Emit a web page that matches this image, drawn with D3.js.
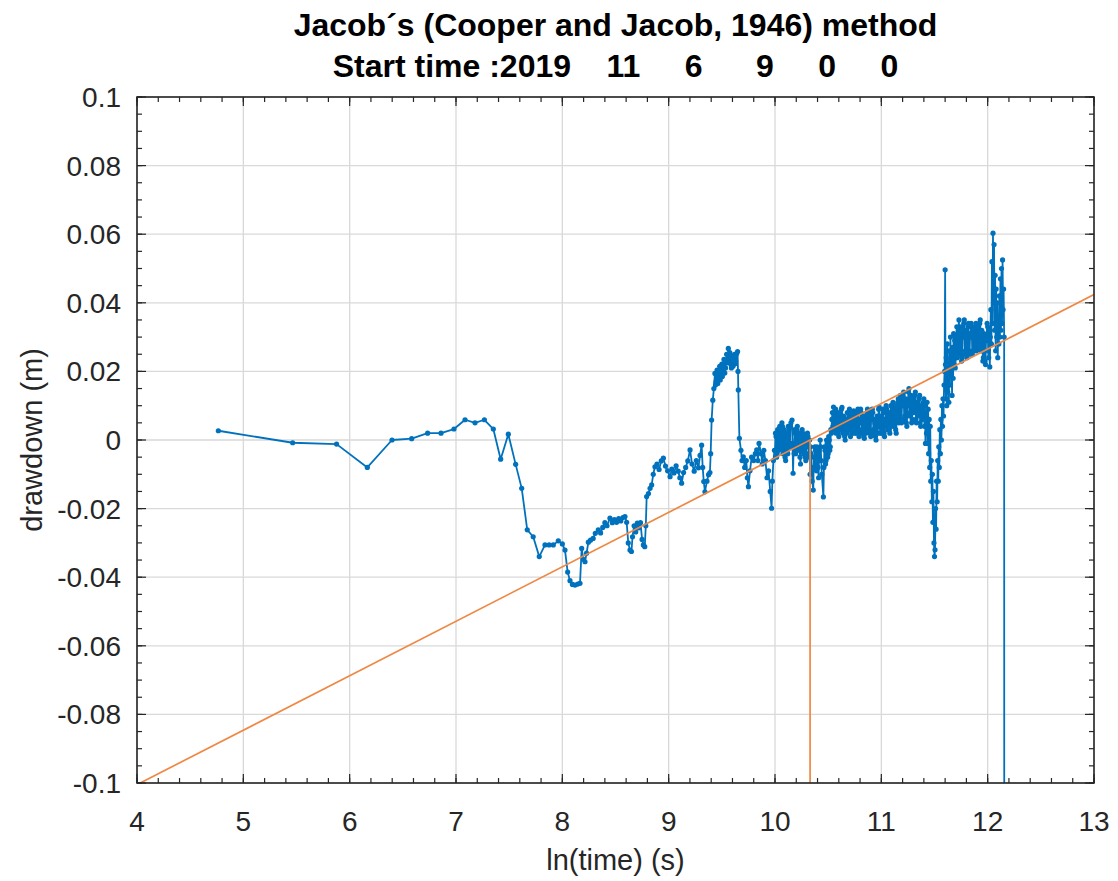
<!DOCTYPE html>
<html><head><meta charset="utf-8">
<script src="https://cdn.jsdelivr.net/npm/d3@7"></script>
<style>
body{margin:0;background:#fff}
text{font-family:"Liberation Sans",Arial,Helvetica,sans-serif}
</style>
</head><body>
<svg id="chart" width="1118" height="881"></svg>
<script>
// ---- data ----
const titleLines = ["Jacob\u00b4s (Cooper and Jacob, 1946) method",
                    "Start time :2019    11     6      9     0     0"];
const xLabel = "ln(time) (s)";
const yLabel = "drawdown (m)";
const xTicks = [4,5,6,7,8,9,10,11,12,13];
const yTicks = [-0.1,-0.08,-0.06,-0.04,-0.02,0,0.02,0.04,0.06,0.08,0.1];
const yTickLabels = ["-0.1","-0.08","-0.06","-0.04","-0.02","0","0.02","0.04","0.06","0.08","0.1"];
// Cooper-Jacob straight-line fit and its zero-drawdown intercept t0
const fitX = [4.03, 13];
const fitY = [-0.1, 0.0424];
const t0X = [10.33, 10.33];
const t0Y = [0, -0.1];
// measured drawdown: [ln(time), drawdown]
const drawdownSeries = [
[4.765,0.0027],[5.464,-0.0008],[5.877,-0.0012],[6.166,-0.0080],[6.398,0.0000],[6.583,0.0004],[6.733,0.0020],[6.859,0.0020],[6.981,0.0032],[7.085,0.0059],[7.179,0.0050],[7.267,0.0059],[7.351,0.0032],[7.420,-0.0056],[7.492,0.0017],[7.561,-0.0071],[7.618,-0.0141],[7.670,-0.0262],[7.726,-0.0282],[7.783,-0.0340],[7.837,-0.0306],[7.876,-0.0306],[7.915,-0.0306],[7.962,-0.0294],[8.000,-0.0303],[8.025,-0.0321],[8.050,-0.0385],[8.072,-0.0410],[8.095,-0.0421],[8.119,-0.0423],[8.145,-0.0420],[8.166,-0.0418],[8.182,-0.0316],[8.198,-0.0348],[8.213,-0.0355],[8.228,-0.0330],[8.245,-0.0298],[8.265,-0.0292],[8.290,-0.0287],[8.310,-0.0272],[8.338,-0.0262],[8.360,-0.0271],[8.380,-0.0255],[8.400,-0.0241],[8.420,-0.0250],[8.448,-0.0228],[8.470,-0.0241],[8.490,-0.0232],[8.510,-0.0240],[8.530,-0.0229],[8.550,-0.0236],[8.570,-0.0226],[8.589,-0.0223],[8.605,-0.0240],[8.620,-0.0300],[8.636,-0.0321],[8.650,-0.0325],[8.660,-0.0282],[8.675,-0.0250],[8.690,-0.0268],[8.705,-0.0242],[8.720,-0.0256],[8.735,-0.0241],[8.750,-0.0290],[8.762,-0.0306],[8.775,-0.0311],[8.785,-0.0250],[8.793,-0.0165],[8.810,-0.0156],[8.825,-0.0141],[8.840,-0.0131],[8.855,-0.0100],[8.871,-0.0078],[8.890,-0.0070],[8.910,-0.0086],[8.930,-0.0061],[8.950,-0.0053],[8.970,-0.0076],[8.990,-0.0090],[9.013,-0.0107],[9.030,-0.0085],[9.050,-0.0096],[9.070,-0.0075],[9.090,-0.0091],[9.105,-0.0110],[9.122,-0.0126],[9.140,-0.0095],[9.160,-0.0080],[9.180,-0.0061],[9.201,-0.0029],[9.220,-0.0070],[9.240,-0.0091],[9.260,-0.0060],[9.280,-0.0081],[9.295,-0.0045],[9.310,-0.0015],[9.320,-0.0080],[9.330,-0.0121],[9.341,-0.0151],[9.360,-0.0120],[9.375,-0.0101],[9.388,-0.0095],[9.395,-0.0040],[9.404,0.0058],[9.415,0.0116],[9.425,0.0150],[9.435,0.0194],[9.440,0.0160],[9.445,0.0170],[9.450,0.0190],[9.455,0.0204],[9.462,0.0165],[9.470,0.0180],[9.475,0.0200],[9.480,0.0215],[9.485,0.0175],[9.490,0.0195],[9.495,0.0210],[9.500,0.0221],[9.505,0.0185],[9.510,0.0200],[9.515,0.0220],[9.520,0.0235],[9.528,0.0195],[9.535,0.0210],[9.540,0.0232],[9.545,0.0250],[9.553,0.0225],[9.561,0.0267],[9.565,0.0240],[9.570,0.0230],[9.575,0.0255],[9.580,0.0246],[9.585,0.0220],[9.590,0.0210],[9.595,0.0235],[9.600,0.0240],[9.605,0.0215],[9.610,0.0225],[9.615,0.0245],[9.620,0.0250],[9.625,0.0222],[9.630,0.0230],[9.640,0.0252],[9.648,0.0258],[9.652,0.0200],[9.655,0.0146],[9.665,0.0005],[9.680,-0.0030],[9.690,-0.0060],[9.702,-0.0049],[9.715,-0.0080],[9.730,-0.0060],[9.740,-0.0110],[9.750,-0.0136],[9.765,-0.0090],[9.780,-0.0050],[9.800,-0.0060],[9.815,-0.0040],[9.828,-0.0029],[9.840,-0.0060],[9.850,-0.0010],[9.870,-0.0040],[9.880,-0.0070],[9.895,-0.0030],[9.910,-0.0060],[9.925,-0.0110],[9.940,-0.0090],[9.955,-0.0150],[9.968,-0.0199],[9.975,-0.0120],[9.985,-0.0060],[9.995,-0.0030],
[10.00,-0.003],[10.005,0.002],[10.01,0.001],[10.015,-0.005],[10.02,-0.004],[10.025,0.003],[10.03,0.002],[10.035,-0.003],[10.04,-0.002],[10.045,0.004],[10.05,0.003],[10.055,-0.002],[10.06,-0.001],[10.065,0.005],[10.07,0.004],[10.075,-0.004],[10.08,-0.003],[10.085,0.003],[10.09,0.002],[10.095,-0.005],[10.10,-0.006],[10.105,0.002],[10.11,0.001],[10.115,-0.003],[10.12,-0.004],[10.125,0.004],[10.13,0.003],[10.135,-0.001],[10.14,-0.002],[10.145,0.004],[10.15,0.005],[10.16,0.0058],[10.165,-0.001],[10.17,-0.0097],[10.175,-0.002],[10.18,-0.004],[10.185,0.003],[10.19,0.002],[10.195,-0.004],[10.20,-0.003],[10.205,0.003],[10.21,0.004],[10.215,-0.003],[10.22,-0.002],[10.225,0.002],[10.23,0.001],[10.235,-0.005],[10.24,-0.007],[10.245,0.000],[10.25,-0.003],[10.255,0.003],[10.26,0.002],[10.265,-0.003],[10.27,-0.004],[10.275,0.001],[10.28,0.000],[10.285,-0.005],[10.29,-0.006],[10.295,0.000],[10.30,-0.002],[10.305,0.002],[10.31,0.001],[10.315,-0.004],[10.32,-0.005],[10.325,0.000],[10.33,-0.010],[10.335,-0.002],[10.34,-0.004],[10.345,-0.008],[10.35,-0.012],[10.36,-0.0146],[10.365,-0.005],[10.37,-0.008],[10.375,-0.002],[10.38,-0.003],[10.385,-0.007],[10.39,-0.009],[10.395,-0.002],[10.40,-0.004],[10.405,-0.008],[10.41,-0.011],[10.415,-0.003],[10.42,-0.006],[10.425,0.000],[10.43,-0.002],[10.435,-0.006],[10.44,-0.010],[10.455,-0.0166],[10.46,-0.008],[10.465,-0.002],[10.47,-0.003],[10.475,-0.007],[10.48,-0.006],[10.485,0.000],[10.49,-0.001],[10.495,-0.005],[10.50,-0.004],[10.505,0.001],[10.51,0.000],[10.515,-0.003],[10.52,-0.002],[10.525,0.003],[10.53,0.002],[10.535,0.006],[10.54,0.008],[10.545,0.004],[10.55,0.0096],
[10.555,0.003],[10.56,0.005],[10.565,0.008],[10.57,0.009],[10.575,0.002],[10.58,0.003],[10.585,0.008],[10.59,0.007],[10.595,0.002],[10.60,0.001],[10.605,0.006],[10.61,0.008],[10.615,0.003],[10.62,0.004],[10.625,0.009],[10.63,0.0095],[10.635,0.004],[10.64,0.002],[10.645,0.007],[10.65,0.006],[10.655,0.001],[10.66,0.000],[10.665,0.006],[10.67,0.005],[10.675,0.002],[10.68,0.008],[10.685,0.004],[10.69,0.003],[10.695,0.008],[10.70,0.009],[10.705,0.003],[10.71,0.001],[10.715,0.007],[10.72,0.006],[10.725,0.002],[10.73,0.003],[10.735,0.008],[10.74,0.0085],[10.745,0.003],[10.75,0.002],[10.755,0.007],[10.76,0.007],[10.765,0.002],[10.77,0.004],[10.775,0.008],[10.78,0.009],[10.785,0.003],[10.79,0.001],[10.795,0.006],[10.80,0.005],[10.805,0.009],[10.81,0.008],[10.815,0.003],[10.82,0.002],[10.825,0.007],[10.83,0.006],[10.835,0.001],[10.84,0.0005],[10.845,0.006],[10.85,0.007],[10.855,0.002],[10.86,0.004],[10.865,0.008],[10.87,0.009],[10.875,0.004],[10.88,0.003],[10.885,0.008],[10.89,0.007],[10.895,0.002],[10.90,0.001],[10.905,0.007],[10.91,0.006],[10.915,0.009],[10.92,0.008],[10.925,0.003],[10.93,0.002],[10.935,0.006],[10.94,0.005],[10.945,0.001],[10.95,0.000],[10.955,0.006],[10.96,0.007],[10.965,0.002],[10.97,0.004],[10.975,0.009],[10.98,0.0095],[10.985,0.004],[10.99,0.002],[10.995,0.007],[11.00,0.006],[11.005,0.002],[11.01,0.003],[11.015,0.009],[11.02,0.008],[11.025,0.002],[11.03,0.001],[11.035,0.006],[11.04,0.005],[11.045,0.010],[11.05,0.009],[11.055,0.004],[11.06,0.003],[11.065,0.008],[11.07,0.007],[11.075,0.003],[11.08,0.002],[11.085,0.008],[11.09,0.010],[11.095,0.004],[11.10,0.005],[11.105,0.010],[11.11,0.011],[11.115,0.005],[11.12,0.004],[11.125,0.010],[11.13,0.009],[11.135,0.003],[11.14,0.002],[11.145,0.007],[11.15,0.008],[11.155,0.011],[11.16,0.012],[11.165,0.005],[11.17,0.006],[11.175,0.012],[11.18,0.013],[11.185,0.006],[11.19,0.005],[11.195,0.011],[11.20,0.010],[11.205,0.013],[11.21,0.014],[11.215,0.006],[11.22,0.007],[11.225,0.011],[11.23,0.012],[11.235,0.005],[11.24,0.004],[11.245,0.010],[11.25,0.011],[11.255,0.014],[11.26,0.015],[11.265,0.007],[11.27,0.008],[11.275,0.012],[11.28,0.013],[11.285,0.005],[11.29,0.006],[11.295,0.011],[11.30,0.012],[11.305,0.008],[11.31,0.009],[11.315,0.013],[11.32,0.014],[11.325,0.006],[11.33,0.005],[11.335,0.010],[11.34,0.011],[11.345,0.007],[11.35,0.008],[11.355,0.012],[11.36,0.013],[11.365,0.005],[11.37,0.004],[11.375,0.009],[11.38,0.010],[11.385,0.006],[11.39,0.007],[11.395,0.011],
[11.40,0.012],[11.405,0.004],[11.41,0.010],[11.415,-0.001],[11.42,0.008],[11.425,0.002],[11.43,0.011],[11.435,-0.001],[11.44,0.009],[11.445,-0.004],[11.45,0.006],[11.455,-0.008],[11.46,0.004],[11.465,-0.012],[11.47,-0.006],[11.475,-0.018],[11.48,-0.010],[11.485,-0.024],[11.49,-0.015],[11.495,-0.030],[11.50,-0.034],[11.505,-0.032],[11.51,-0.020],[11.515,-0.026],[11.52,-0.012],[11.525,-0.018],[11.53,-0.006],[11.535,-0.012],[11.54,-0.002],[11.545,-0.008],[11.55,0.003],[11.555,-0.004],[11.56,0.006],[11.565,0.000],[11.57,0.010],[11.575,0.004],[11.58,0.012],[11.585,0.007],[11.59,0.016],[11.595,0.020],
[11.600,0.0496],[11.603,0.022],[11.607,0.012],[11.61,0.024],[11.615,0.010],[11.62,0.028],[11.625,0.014],[11.63,0.022],[11.635,0.011],[11.64,0.026],[11.645,0.016],[11.65,0.030],[11.655,0.020],[11.66,0.025],[11.665,0.013],[11.67,0.027],[11.675,0.018],[11.68,0.031],[11.685,0.022],[11.69,0.029],[11.695,0.021],[11.70,0.024],[11.705,0.030],[11.71,0.033],[11.715,0.024],[11.72,0.026],[11.725,0.032],[11.73,0.035],[11.735,0.025],[11.74,0.028],[11.745,0.033],[11.75,0.032],[11.755,0.023],[11.76,0.024],[11.765,0.031],[11.77,0.030],[11.775,0.034],[11.78,0.035],[11.785,0.025],[11.79,0.026],[11.795,0.032],[11.80,0.031],[11.805,0.024],[11.81,0.027],[11.815,0.033],[11.82,0.034],[11.825,0.026],[11.83,0.025],[11.835,0.031],[11.84,0.030],[11.845,0.034],[11.85,0.033],[11.855,0.025],[11.86,0.026],[11.865,0.032],[11.87,0.031],[11.875,0.026],[11.88,0.028],[11.885,0.033],[11.89,0.034],[11.895,0.026],[11.90,0.027],[11.905,0.033],[11.91,0.032],[11.915,0.027],[11.92,0.029],[11.925,0.034],[11.93,0.035],[11.935,0.027],[11.94,0.026],[11.945,0.032],[11.95,0.031],[11.955,0.023],[11.96,0.024],[11.965,0.031],[11.97,0.030],[11.975,0.023],[11.98,0.022],[11.985,0.030],[11.99,0.029],[11.995,0.034],[12.00,0.033],[12.005,0.026],[12.01,0.024],[12.015,0.032],[12.02,0.0213],[12.025,0.030],[12.03,0.038],[12.035,0.028],[12.04,0.052],[12.045,0.034],[12.05,0.0603],[12.055,0.040],[12.06,0.057],[12.065,0.032],[12.07,0.048],[12.075,0.026],[12.08,0.044],[12.085,0.030],[12.09,0.040],[12.095,0.024],[12.10,0.036],[12.105,0.028],[12.11,0.042],[12.115,0.030],[12.12,0.047],[12.125,0.032],[12.13,0.050],[12.135,0.034],[12.14,0.0525],[12.145,0.038],[12.15,0.044],[12.155,0.030],[12.157,-0.3]
];

// ---- layout ----
const M = {left:137, right:1094, top:97, bottom:783};
const svg = d3.select("#chart");
const x = d3.scaleLinear().domain([4,13]).range([M.left, M.right]);
const y = d3.scaleLinear().domain([-0.1,0.1]).range([M.bottom, M.top]);
const axisCol = "#262626";
const pw = M.right - M.left, ph = M.bottom - M.top;

// grid
const grid = svg.append("g");
grid.selectAll("line.gx").data(xTicks).join("line")
  .attr("x1", d=>x(d)).attr("x2", d=>x(d)).attr("y1", M.top).attr("y2", M.bottom)
  .attr("stroke", "#d9d9d9").attr("stroke-width", 1.3);
grid.selectAll("line.gy").data(yTicks).join("line")
  .attr("y1", d=>y(d)).attr("y2", d=>y(d)).attr("x1", M.left).attr("x2", M.right)
  .attr("stroke", "#d9d9d9").attr("stroke-width", 1.3);

// clip
svg.append("clipPath").attr("id","clip").append("rect")
  .attr("x", M.left).attr("y", M.top).attr("width", pw).attr("height", ph);

const plot = svg.append("g").attr("clip-path","url(#clip)");
const line = d3.line().x(d=>x(d[0])).y(d=>y(d[1]));
plot.append("path").datum(drawdownSeries).attr("d", line)
  .attr("fill","none").attr("stroke","#0072BD").attr("stroke-width",1.8).attr("stroke-linejoin","round");
plot.append("g").selectAll("circle").data(drawdownSeries.filter(d=>d[1]>-0.1)).join("circle")
  .attr("cx", d=>x(d[0])).attr("cy", d=>y(d[1])).attr("r", 2.6).attr("fill","#0072BD");

const fitPts = fitX.map((v,i)=>[v, fitY[i]]);
const t0Pts = t0X.map((v,i)=>[v, t0Y[i]]);
plot.append("path").datum(fitPts).attr("d", line).attr("fill","none").attr("stroke","#EE8844").attr("stroke-width",1.7);
plot.append("path").datum(t0Pts).attr("d", line).attr("fill","none").attr("stroke","#EE8844").attr("stroke-width",1.7);

// axes: box and ticks (inward, all four sides)
const ax = svg.append("g");
const xMinor = d3.range(4, 13.0001, 0.2);
const yMinor = d3.range(-0.1, 0.1001, 0.005);
function tickLines(vals, len, horiz){
  vals.forEach(v=>{
    if(horiz){
      const px = x(v);
      ax.append("line").attr("x1",px).attr("x2",px).attr("y1",M.bottom).attr("y2",M.bottom-len).attr("stroke",axisCol).attr("stroke-width",1.2);
      ax.append("line").attr("x1",px).attr("x2",px).attr("y1",M.top).attr("y2",M.top+len).attr("stroke",axisCol).attr("stroke-width",1.2);
    } else {
      const py = y(v);
      ax.append("line").attr("y1",py).attr("y2",py).attr("x1",M.left).attr("x2",M.left+len).attr("stroke",axisCol).attr("stroke-width",1.2);
      ax.append("line").attr("y1",py).attr("y2",py).attr("x1",M.right).attr("x2",M.right-len).attr("stroke",axisCol).attr("stroke-width",1.2);
    }
  });
}
tickLines(xMinor, 5, true);
tickLines(yMinor, 5, false);
tickLines(xTicks, 9, true);
tickLines(yTicks, 9, false);
ax.append("rect").attr("x",M.left).attr("y",M.top).attr("width",pw).attr("height",ph)
  .attr("fill","none").attr("stroke",axisCol).attr("stroke-width",1.6);

// tick labels
svg.append("g").selectAll("text").data(xTicks).join("text")
  .attr("x", d=>x(d)).attr("y", M.bottom+48).attr("text-anchor","middle")
  .attr("font-size",28).attr("fill",axisCol).text(d=>d);
svg.append("g").selectAll("text").data(yTicks).join("text")
  .attr("x", M.left-16).attr("y", d=>y(d)+10).attr("text-anchor","end")
  .attr("font-size",28).attr("fill",axisCol).text((d,i)=>yTickLabels[i]);

// axis labels
svg.append("text").attr("x",(M.left+M.right)/2).attr("y",870).attr("text-anchor","middle")
  .attr("font-size",29).attr("fill",axisCol).text(xLabel);
svg.append("text").attr("transform",`translate(42,${(M.top+M.bottom)/2}) rotate(-90)`)
  .attr("text-anchor","middle").attr("font-size",29).attr("fill",axisCol).text(yLabel);

// titles
svg.append("text").attr("x",(M.left+M.right)/2).attr("y",36).attr("text-anchor","middle")
  .attr("font-size",32).attr("font-weight","bold").attr("fill","#000").text(titleLines[0]);
svg.append("text").attr("x",(M.left+M.right)/2).attr("y",77).attr("text-anchor","middle")
  .attr("font-size",32).attr("font-weight","bold").attr("fill","#000")
  .style("white-space","pre").attr("xml:space","preserve").text(titleLines[1]);
</script>
</body></html>
